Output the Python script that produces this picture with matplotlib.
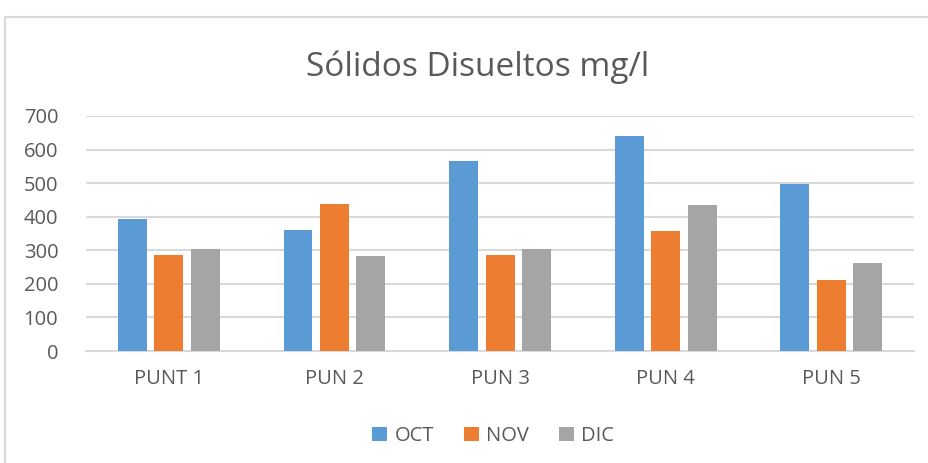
import matplotlib.pyplot as plt
from matplotlib.patches import Rectangle
import numpy as np

# Data
puntos = ["PUNT 1", "PUN 2", "PUN 3", "PUN 4", "PUN 5"]
octubre = [394, 361, 567, 639, 496]
noviembre = [287, 439, 287, 358, 212]
diciembre = [305, 284, 305, 436, 263]

meses = ["OCT", "NOV", "DIC"]
colores = ["#5B9BD5", "#ED7D31", "#A5A5A5"]

plt.rcParams['font.family'] = ['Open Sans', 'DejaVu Sans']

fig = plt.figure(figsize=(9.29, 4.63), dpi=100)
ax = fig.add_axes([0.0926, 0.2419, 0.8913, 0.5076])

x = np.arange(len(puntos))
width = 0.175
offset = 0.22
for i, (serie, nombre, color) in enumerate(zip([octubre, noviembre, diciembre], meses, colores)):
    ax.bar(x + (i - 1) * offset, serie, width, color=color, label=nombre, zorder=3)

ax.set_xlim(-0.5, len(puntos) - 0.5)
ax.set_ylim(0, 700)
ax.set_yticks(range(0, 701, 100))
ax.set_xticks(x)
ax.set_xticklabels(puntos)
ax.yaxis.grid(True, color="#D9D9D9", linewidth=1.5, zorder=0)
ax.tick_params(axis="both", length=0, labelsize=14.5, labelcolor="#595959")
ax.tick_params(axis="y", pad=20)
ax.tick_params(axis="x", pad=13)
for side in ["top", "right", "left"]:
    ax.spines[side].set_visible(False)
ax.spines["bottom"].set_color("#D9D9D9")
ax.spines["bottom"].set_linewidth(1.5)

fig.text(0.514, 0.855, "Sólidos Disueltos mg/l", ha="center", va="center",
         fontsize=24, color="#595959")

fig.legend(loc="center", bbox_to_anchor=(0.531, 0.058), ncol=3, frameon=False,
           fontsize=14.5, handlelength=0.75, handleheight=0.75, handletextpad=0.35,
           columnspacing=1.5, labelcolor="#595959")

# chart border (cut off on right and bottom in the reference)
fig.patches.append(Rectangle((5 / 929, -0.1), 1.1, 1 - 17 / 463 + 0.1,
                             transform=fig.transFigure, fill=False,
                             edgecolor="#D9D9D9", linewidth=1.5))

fig.savefig("out.png", dpi=100)
